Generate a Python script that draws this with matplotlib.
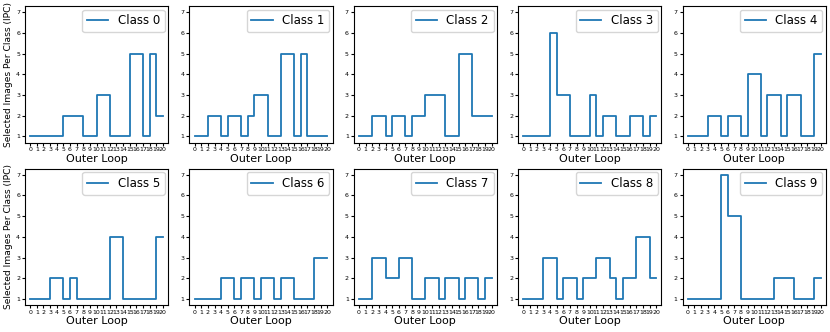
import numpy as np
import matplotlib
matplotlib.use("Agg")
import matplotlib.pyplot as plt

# Selected images per class at each outer loop step (0..20)
loops = list(range(21))
class_0 = [1, 1, 1, 1, 1, 2, 2, 2, 1, 1, 3, 3, 1, 1, 1, 5, 5, 1, 5, 2, 2]
class_1 = [1, 1, 2, 2, 1, 2, 2, 1, 2, 3, 3, 1, 1, 5, 5, 1, 5, 1, 1, 1, 1]
class_2 = [1, 1, 2, 2, 1, 2, 2, 1, 2, 2, 3, 3, 3, 1, 1, 5, 5, 2, 2, 2, 2]
class_3 = [1, 1, 1, 1, 6, 3, 3, 1, 1, 1, 3, 1, 2, 2, 1, 1, 2, 2, 1, 2, 2]
class_4 = [1, 1, 1, 2, 2, 1, 2, 2, 1, 4, 4, 1, 3, 3, 1, 3, 3, 1, 1, 5, 5]
class_5 = [1, 1, 1, 2, 2, 1, 2, 1, 1, 1, 1, 1, 4, 4, 1, 1, 1, 1, 1, 4, 4]
class_6 = [1, 1, 1, 1, 2, 2, 1, 2, 2, 1, 2, 2, 1, 2, 2, 1, 1, 1, 3, 3, 3]
class_7 = [1, 1, 3, 3, 2, 2, 3, 3, 1, 1, 2, 2, 1, 2, 2, 1, 2, 2, 1, 2, 2]
class_8 = [1, 1, 1, 3, 3, 1, 2, 2, 1, 2, 2, 3, 3, 2, 1, 2, 2, 4, 4, 2, 2]
class_9 = [1, 1, 1, 1, 1, 7, 5, 5, 1, 1, 1, 1, 1, 2, 2, 2, 1, 1, 1, 2, 2]

all_classes = [class_0, class_1, class_2, class_3, class_4,
               class_5, class_6, class_7, class_8, class_9]

fig, axes = plt.subplots(2, 5, figsize=(8.3, 3.32), dpi=100)
plt.subplots_adjust(left=0.030, right=0.995, top=0.982, bottom=0.081,
                    wspace=0.147, hspace=0.19)

for i, ax in enumerate(axes.flat):
    ax.step(loops, all_classes[i], where="post", color="tab:blue",
            lw=1.3, label=f"Class {i}")
    ax.set_xlim(-0.8, 20.8)
    ax.set_ylim(0.7, 7.3)
    ax.set_xticks(loops)
    ax.set_yticks(range(1, 8))
    ax.tick_params(axis="both", labelsize=4.5, length=2, pad=1.5)
    ax.set_xlabel("Outer Loop", fontsize=8, labelpad=1)
    ax.legend(loc="upper right", fontsize=8.5, handlelength=1.8,
              borderaxespad=0.3)
    if i % 5 == 0:
        ax.set_ylabel("Selected Images Per Class (IPC)", fontsize=6.6, labelpad=2)

plt.savefig("out.png", dpi=100)
